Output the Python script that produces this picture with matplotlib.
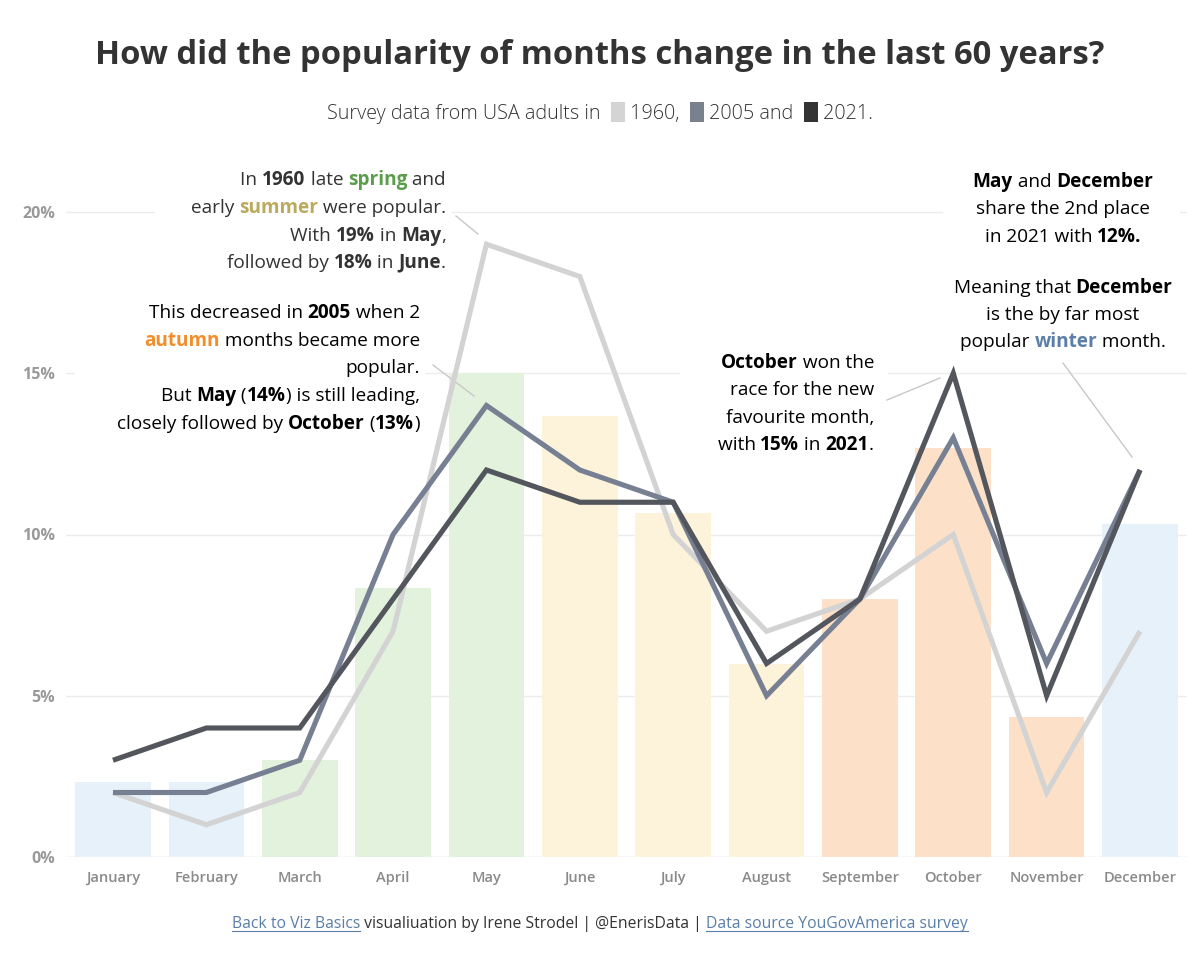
import matplotlib
matplotlib.use('Agg')
import matplotlib.pyplot as plt
from matplotlib.patches import Rectangle
from matplotlib.lines import Line2D

# ---------------- data ----------------
months = ['January', 'February', 'March', 'April', 'May', 'June', 'July',
          'August', 'September', 'October', 'November', 'December']
pop_1960 = [2, 1, 2, 7, 19, 18, 10, 7, 8, 10, 2, 7]
pop_2005 = [2, 2, 3, 10, 14, 12, 11, 5, 8, 13, 6, 12]
pop_2021 = [3, 4, 4, 8, 12, 11, 11, 6, 8, 15, 5, 12]
avg_bars = [2.33, 2.33, 3.0, 8.33, 15.0, 13.67, 10.67, 6.0, 8.0, 12.67, 4.33, 10.33]
seasons = ['winter', 'winter', 'spring', 'spring', 'spring', 'summer', 'summer',
           'summer', 'autumn', 'autumn', 'autumn', 'winter']
y_ticks = [0, 5, 10, 15, 20]
y_tick_labels = ['0%', '5%', '10%', '15%', '20%']

season_bar_col = {'winter': '#e6f1f9', 'spring': '#e2f2dc',
                  'summer': '#fdf2da', 'autumn': '#fce1c8'}
C1960, C2005, C2021 = '#d3d3d3', '#778092', '#53565d'
TXT = '#333333'
GREEN, SUMMER, AUTUMN, WINTER = '#5a9e4b', '#bcaa5c', '#f28e2b', '#5b7fa8'

FONT = 'Open Sans'
W, H = 1200, 960
fig = plt.figure(figsize=(12, 9.6), dpi=100)
renderer = fig.canvas.get_renderer()

# axes placement (pixel-based)
x_left, x_right = 66.3, 1186.7
y_zero, px_per_pct = 857.0, 32.25
ymax = 21.5
y_top = y_zero - ymax * px_per_pct
ax = fig.add_axes([x_left / W, 1 - y_zero / H, (x_right - x_left) / W,
                   (y_zero - y_top) / H])
ax.set_xlim(-0.5, 11.5)
ax.set_ylim(0, ymax)
for s in ax.spines.values():
    s.set_visible(False)
ax.set_axisbelow(True)
ax.yaxis.grid(True, color='#ececec', lw=1)
ax.set_yticks(y_ticks)
ax.set_yticklabels(y_tick_labels)
ax.tick_params(axis='y', length=0, pad=8, labelcolor='#999999', labelsize=11.5)
for lab in ax.get_yticklabels():
    lab.set_fontweight('bold')
    lab.set_family(FONT)
ax.set_xticks(range(12))
ax.set_xticklabels(months)
ax.tick_params(axis='x', length=0, pad=10, labelcolor='#8a8a8a', labelsize=10.5)
for lab in ax.get_xticklabels():
    lab.set_fontweight('semibold')
    lab.set_family(FONT)
ax.axhline(0, color='#cfcfcf', lw=1, ls=(0, (1, 1.5)), zorder=0.6)

# bars
ax.bar(range(12), avg_bars, width=0.81,
       color=[season_bar_col[s] for s in seasons], zorder=1)

# lines
for vals, col in [(pop_1960, C1960), (pop_2005, C2005), (pop_2021, C2021)]:
    ax.plot(range(12), vals, color=col, lw=3.7, solid_joinstyle='miter',
            solid_capstyle='butt', zorder=3)

# white annotation boxes hiding gridlines
for (x0, y0, x1, y1) in [(155, 160, 452, 275), (75, 290, 425, 440),
                         (680, 345, 888, 460), (943, 160, 1180, 355)]:
    ax.add_patch(Rectangle((x0 / W, 1 - y1 / H), (x1 - x0) / W, (y1 - y0) / H,
                           transform=fig.transFigure, facecolor='white',
                           edgecolor='none', zorder=0.8))

# connector lines
for (xa, ya, xb, yb) in [(456, 216, 478, 234), (433, 365, 474, 396),
                         (887, 400, 940, 378), (1063, 363, 1132, 457)]:
    ax.add_line(Line2D([xa / W, xb / W], [1 - ya / H, 1 - yb / H],
                       transform=fig.transFigure, color='#c8c8c8', lw=1,
                       zorder=2))


# ---------------- rich text helper ----------------
def seg_width(txt, size, weight):
    t = fig.text(0, 0, 'x' + txt + 'x', fontsize=size, fontweight=weight, family=FONT)
    w1 = t.get_window_extent(renderer).width
    t.set_text('xx')
    w2 = t.get_window_extent(renderer).width
    t.remove()
    return w1 - w2


ANN = 13.7


def rich(x, y, segs, align='right', size=ANN, box_w=14, box_h=20):
    """segs: list of (text, weight, color) or ('__box__', color)."""
    widths = []
    for s in segs:
        if s[0] == '__box__':
            widths.append(box_w)
        else:
            widths.append(seg_width(s[0], size, s[1]))
    total = sum(widths)
    if align == 'right':
        cx = x - total
    elif align == 'center':
        cx = x - total / 2
    else:
        cx = x
    base = y + size * 100 / 72 * 0.36
    for s, w in zip(segs, widths):
        if s[0] == '__box__':
            fig.patches.append(Rectangle((cx / W, 1 - (y + box_h / 2) / H), w / W,
                                         box_h / H, transform=fig.transFigure,
                                         facecolor=s[1], edgecolor='none'))
        else:
            fig.text(cx / W, 1 - base / H, s[0], fontsize=size, fontweight=s[1],
                     color=s[2], family=FONT, ha='left', va='baseline')
        cx += w
    return total


N, B = 'normal', 'bold'

# title & subtitle
fig.text(0.5, 1 - 55 / H, 'How did the popularity of months change in the last 60 years?',
         ha='center', va='center', fontsize=23.6, fontweight='bold', color=TXT, family=FONT)
rich(600, 112, [('Survey data from USA adults in  ', 'light', TXT),
                ('__box__', '#d4d4d4'), (' 1960,  ', 'light', TXT),
                ('__box__', '#79808e'), (' 2005 and  ', 'light', TXT),
                ('__box__', '#333333'), (' 2021.', 'light', TXT)],
     align='center', size=14.2)

# left annotation block 1
ys = [178, 206, 234, 261]
rich(446, ys[0], [('In ', N, TXT), ('1960', B, TXT), (' late ', N, TXT),
                  ('spring', B, GREEN), (' and', N, TXT)])
rich(446, ys[1], [('early ', N, TXT), ('summer', B, SUMMER), (' were popular.', N, TXT)])
rich(446, ys[2], [('With ', N, TXT), ('19%', B, TXT), (' in ', N, TXT), ('May', B, TXT),
                  (',', N, TXT)])
rich(446, ys[3], [('followed by ', N, TXT), ('18%', B, TXT), (' in ', N, TXT),
                  ('June', B, TXT), ('.', N, TXT)])

# left annotation block 2
ys = [311, 339, 366, 394, 422]
rich(420, ys[0], [('This decreased in ', N, 'black'), ('2005', B, 'black'),
                  (' when 2', N, 'black')])
rich(420, ys[1], [('autumn', B, AUTUMN), (' months became more', N, 'black')])
rich(420, ys[2], [('popular.', N, 'black')])
rich(420, ys[3], [('But ', N, 'black'), ('May', B, 'black'), (' (', N, 'black'),
                  ('14%', B, 'black'), (') is still leading,', N, 'black')])
rich(420, ys[4], [('closely followed by ', N, 'black'), ('October', B, 'black'),
                  (' (', N, 'black'), ('13%', B, 'black'), (')', N, 'black')])

# October block
ys = [361, 388, 416, 443]
rich(874, ys[0], [('October', B, 'black'), (' won the', N, 'black')])
rich(874, ys[1], [('race for the new', N, 'black')])
rich(874, ys[2], [('favourite month,', N, 'black')])
rich(874, ys[3], [('with ', N, 'black'), ('15%', B, 'black'), (' in ', N, 'black'),
                  ('2021', B, 'black'), ('.', N, 'black')])

# right top block
cx = 1063
rich(cx, 180, [('May', B, 'black'), (' and ', N, 'black'), ('December', B, 'black')],
     align='center')
rich(cx, 207, [('share the 2nd place', N, 'black')], align='center')
rich(cx, 235, [('in 2021 with ', N, 'black'), ('12%.', B, 'black')], align='center')
rich(cx, 286, [('Meaning that ', N, 'black'), ('December', B, 'black')], align='center')
rich(cx, 313, [('is the by far most', N, 'black')], align='center')
rich(cx, 340, [('popular ', N, 'black'), ('winter', B, WINTER), (' month.', N, 'black')],
     align='center')

# footer
LINK = '#5b7fa8'
fsz = 11.3
segs = [('Back to Viz Basics', N, LINK),
        (' visualiuation by Irene Strodel | @EnerisData | ', N, TXT),
        ('Data source YouGovAmerica survey', N, LINK)]
widths = [seg_width(s[0], fsz, s[1]) for s in segs]
total = sum(widths)
x0 = 600 - total / 2
rich(600, 922, segs, align='center', size=fsz)
ul_y = 1 - 931 / H
fig.lines.append(Line2D([x0 / W, (x0 + widths[0]) / W], [ul_y, ul_y],
                        transform=fig.transFigure, color=LINK, lw=0.8))
xs = x0 + widths[0] + widths[1]
fig.lines.append(Line2D([xs / W, (xs + widths[2]) / W], [ul_y, ul_y],
                        transform=fig.transFigure, color=LINK, lw=0.8))

fig.savefig('out.png', dpi=100, facecolor='white')
